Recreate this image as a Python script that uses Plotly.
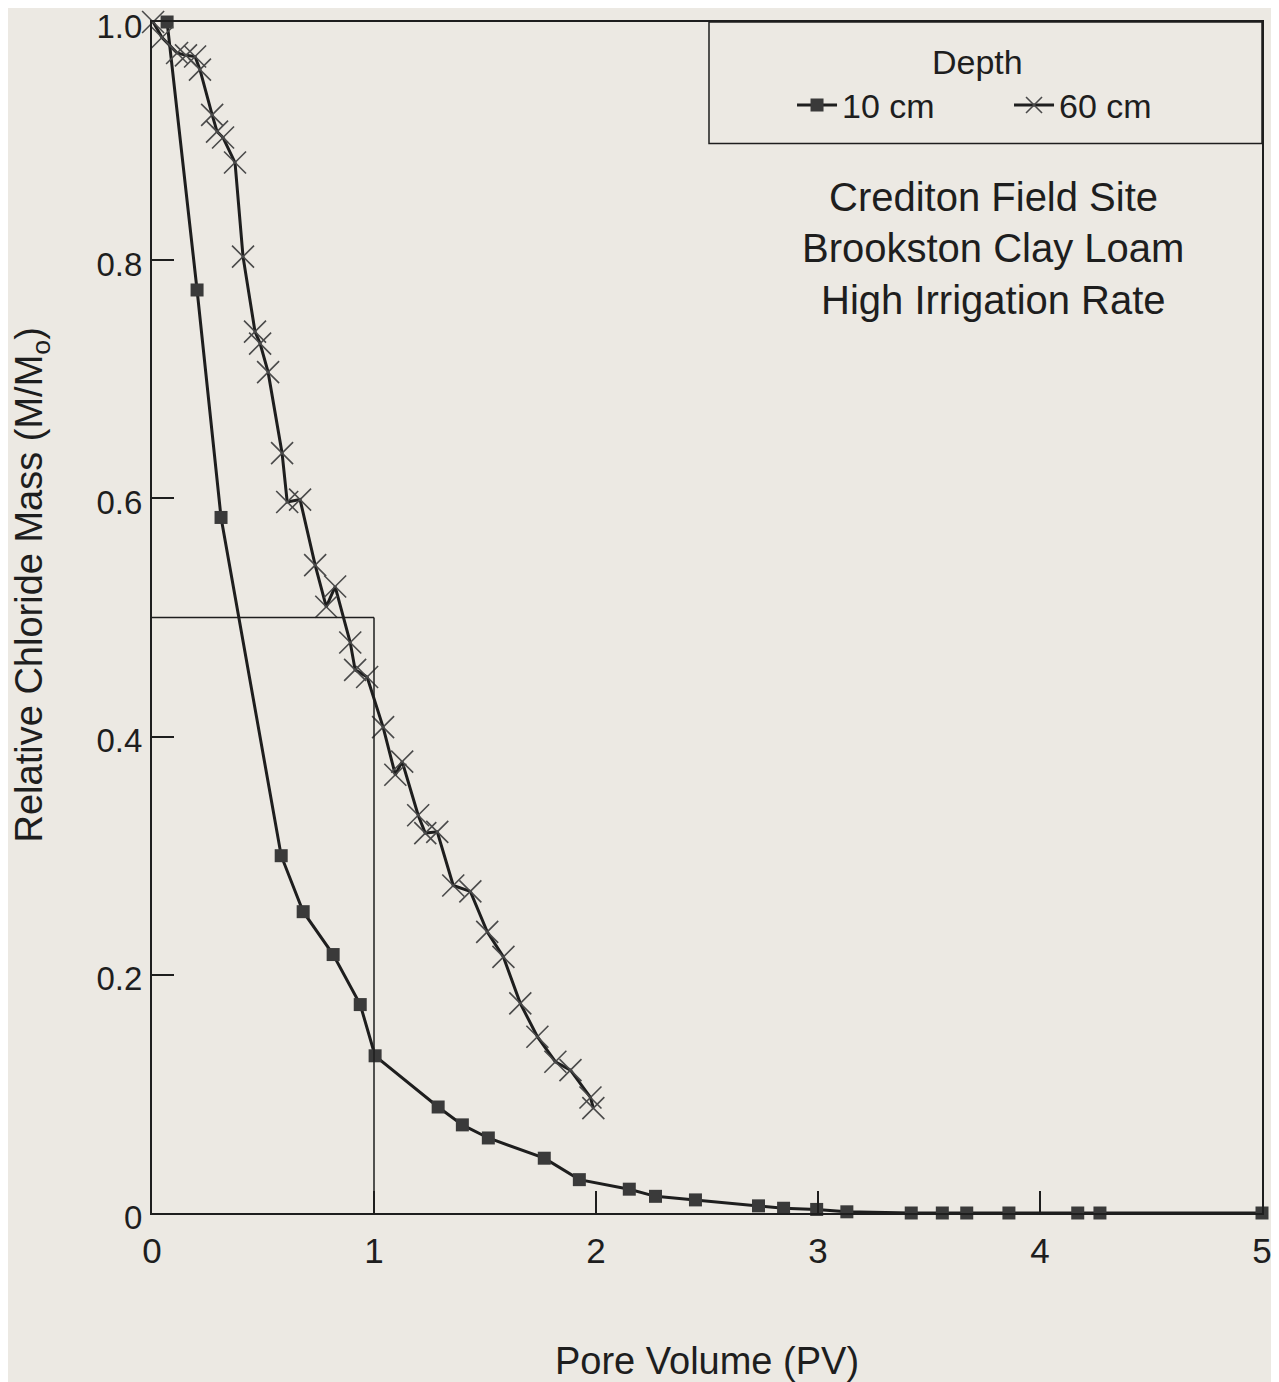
import plotly.graph_objects as go

# 10 cm depth
pv_10 = [0.068, 0.203, 0.311, 0.582, 0.681, 0.816, 0.938, 1.005, 1.289, 1.398, 1.515,
         1.767, 1.925, 2.15, 2.268, 2.448, 2.732, 2.845, 2.994, 3.13, 3.42, 3.56, 3.67,
         3.86, 4.17, 4.27, 5.0]
m_10 = [1.0, 0.775, 0.584, 0.300, 0.253, 0.217, 0.175, 0.132, 0.089, 0.074, 0.063,
        0.046, 0.028, 0.020, 0.014, 0.011, 0.006, 0.004, 0.003, 0.001, 0.0, 0.0, 0.0,
        0.0, 0.0, 0.0, 0.0]

# 60 cm depth
pv_60 = [0.005, 0.045, 0.113, 0.153, 0.194, 0.216, 0.271, 0.293, 0.320, 0.374, 0.410,
         0.464, 0.487, 0.523, 0.586, 0.609, 0.667, 0.735, 0.785, 0.825, 0.893, 0.915,
         0.969, 1.041, 1.096, 1.127, 1.199, 1.231, 1.285, 1.357, 1.434, 1.510, 1.583,
         1.659, 1.736, 1.817, 1.885, 1.975, 1.988]
m_60 = [1.0, 0.987, 0.974, 0.972, 0.971, 0.960, 0.922, 0.908, 0.903, 0.882, 0.803,
        0.740, 0.730, 0.706, 0.638, 0.597, 0.599, 0.544, 0.509, 0.526, 0.479, 0.456,
        0.450, 0.408, 0.368, 0.379, 0.334, 0.319, 0.320, 0.275, 0.270, 0.236, 0.215,
        0.176, 0.148, 0.127, 0.120, 0.097, 0.088]

x_ticks = [0, 1, 2, 3, 4, 5]
x_labels = ["0", "1", "2", "3", "4", "5"]
y_ticks = [0, 0.2, 0.4, 0.6, 0.8, 1.0]
y_labels = ["0", "0.2", "0.4", "0.6", "0.8", "1.0"]

x_title = "Pore Volume (PV)"
y_title = "Relative Chloride Mass (M/M<sub>o</sub>)"
legend_title = "Depth"
notes = ["Crediton Field Site", "Brookston Clay Loam", "High Irrigation Rate"]
note_y = [0.853, 0.810, 0.767]

FONT = "Liberation Sans, Arial, Helvetica, sans-serif"
INK = "#1e1e1e"
BG = "#ece9e3"

fig = go.Figure()
fig.add_trace(go.Scatter(
    x=pv_10, y=m_10, mode="lines+markers", name="10 cm",
    line=dict(color=INK, width=3),
    marker=dict(symbol="square", size=13, color="#3a3a3a", line=dict(width=0)),
    cliponaxis=False,
))
fig.add_trace(go.Scatter(
    x=pv_60, y=m_60, mode="lines+markers", name="60 cm",
    line=dict(color=INK, width=3),
    marker=dict(symbol="x-thin", size=22, color="#4a4a4a", line=dict(width=1.6, color="#4a4a4a")),
    cliponaxis=False,
))

# reference lines at PV = 1 and M/Mo = 0.5
fig.add_shape(type="line", xref="x", yref="y", x0=0, x1=1, y0=0.5, y1=0.5,
              line=dict(color=INK, width=1.5))
fig.add_shape(type="line", xref="x", yref="y", x0=1, x1=1, y0=0, y1=0.5,
              line=dict(color=INK, width=1.5))

# legend frame
fig.add_shape(type="rect", xref="paper", yref="paper", x0=0.5018, x1=1, y0=0.898, y1=1,
              line=dict(color=INK, width=1.5))

fig.add_annotation(text=legend_title, xref="paper", yref="paper", x=0.744, y=0.9664,
                   showarrow=False, xanchor="center", yanchor="middle",
                   font=dict(size=34, color=INK, family=FONT))

for t, yy in zip(notes, note_y):
    fig.add_annotation(text=t, xref="paper", yref="paper", x=0.758, y=yy,
                       showarrow=False, xanchor="center", yanchor="middle",
                       font=dict(size=40, color=INK, family=FONT))

# y-axis title
fig.add_annotation(text=y_title, xref="paper", yref="paper", x=-0.108, y=0.527,
                   textangle=-90, showarrow=False, xanchor="center", yanchor="middle",
                   font=dict(size=38, color=INK, family=FONT))

fig.update_layout(
    width=1271, height=1374,
    margin=dict(l=144, r=17, t=14, b=169, autoexpand=False),
    paper_bgcolor=BG, plot_bgcolor=BG,
    font=dict(family=FONT, color=INK, size=34),
    showlegend=True,
    legend=dict(
        orientation="h", x=0.5766, xanchor="left", y=0.930, yanchor="middle",
        bgcolor="rgba(0,0,0,0)", borderwidth=0,
        font=dict(size=34), itemwidth=40, entrywidth=162, entrywidthmode="pixels",
    ),
    xaxis=dict(
        range=[0, 5], tickvals=x_ticks, ticktext=x_labels, automargin=False,
        ticks="inside", ticklen=22, tickwidth=1.5, tickcolor=INK,
        showline=True, linecolor=INK, linewidth=2, mirror=True,
        showgrid=False, zeroline=False, ticklabeloverflow="allow",
        tickfont=dict(size=35), ticklabelstandoff=6,
        title=dict(text=x_title, font=dict(size=38), standoff=80),
    ),
    yaxis=dict(
        range=[0, 1], tickvals=y_ticks, ticktext=y_labels, automargin=False,
        ticks="inside", ticklen=22, tickwidth=1.5, tickcolor=INK,
        showline=True, linecolor=INK, linewidth=2, mirror=True,
        showgrid=False, zeroline=False, ticklabeloverflow="allow",
        tickfont=dict(size=33), ticklabelstandoff=1, ticklabelshift=4,
    ),
)

fig.write_html("out.html")
